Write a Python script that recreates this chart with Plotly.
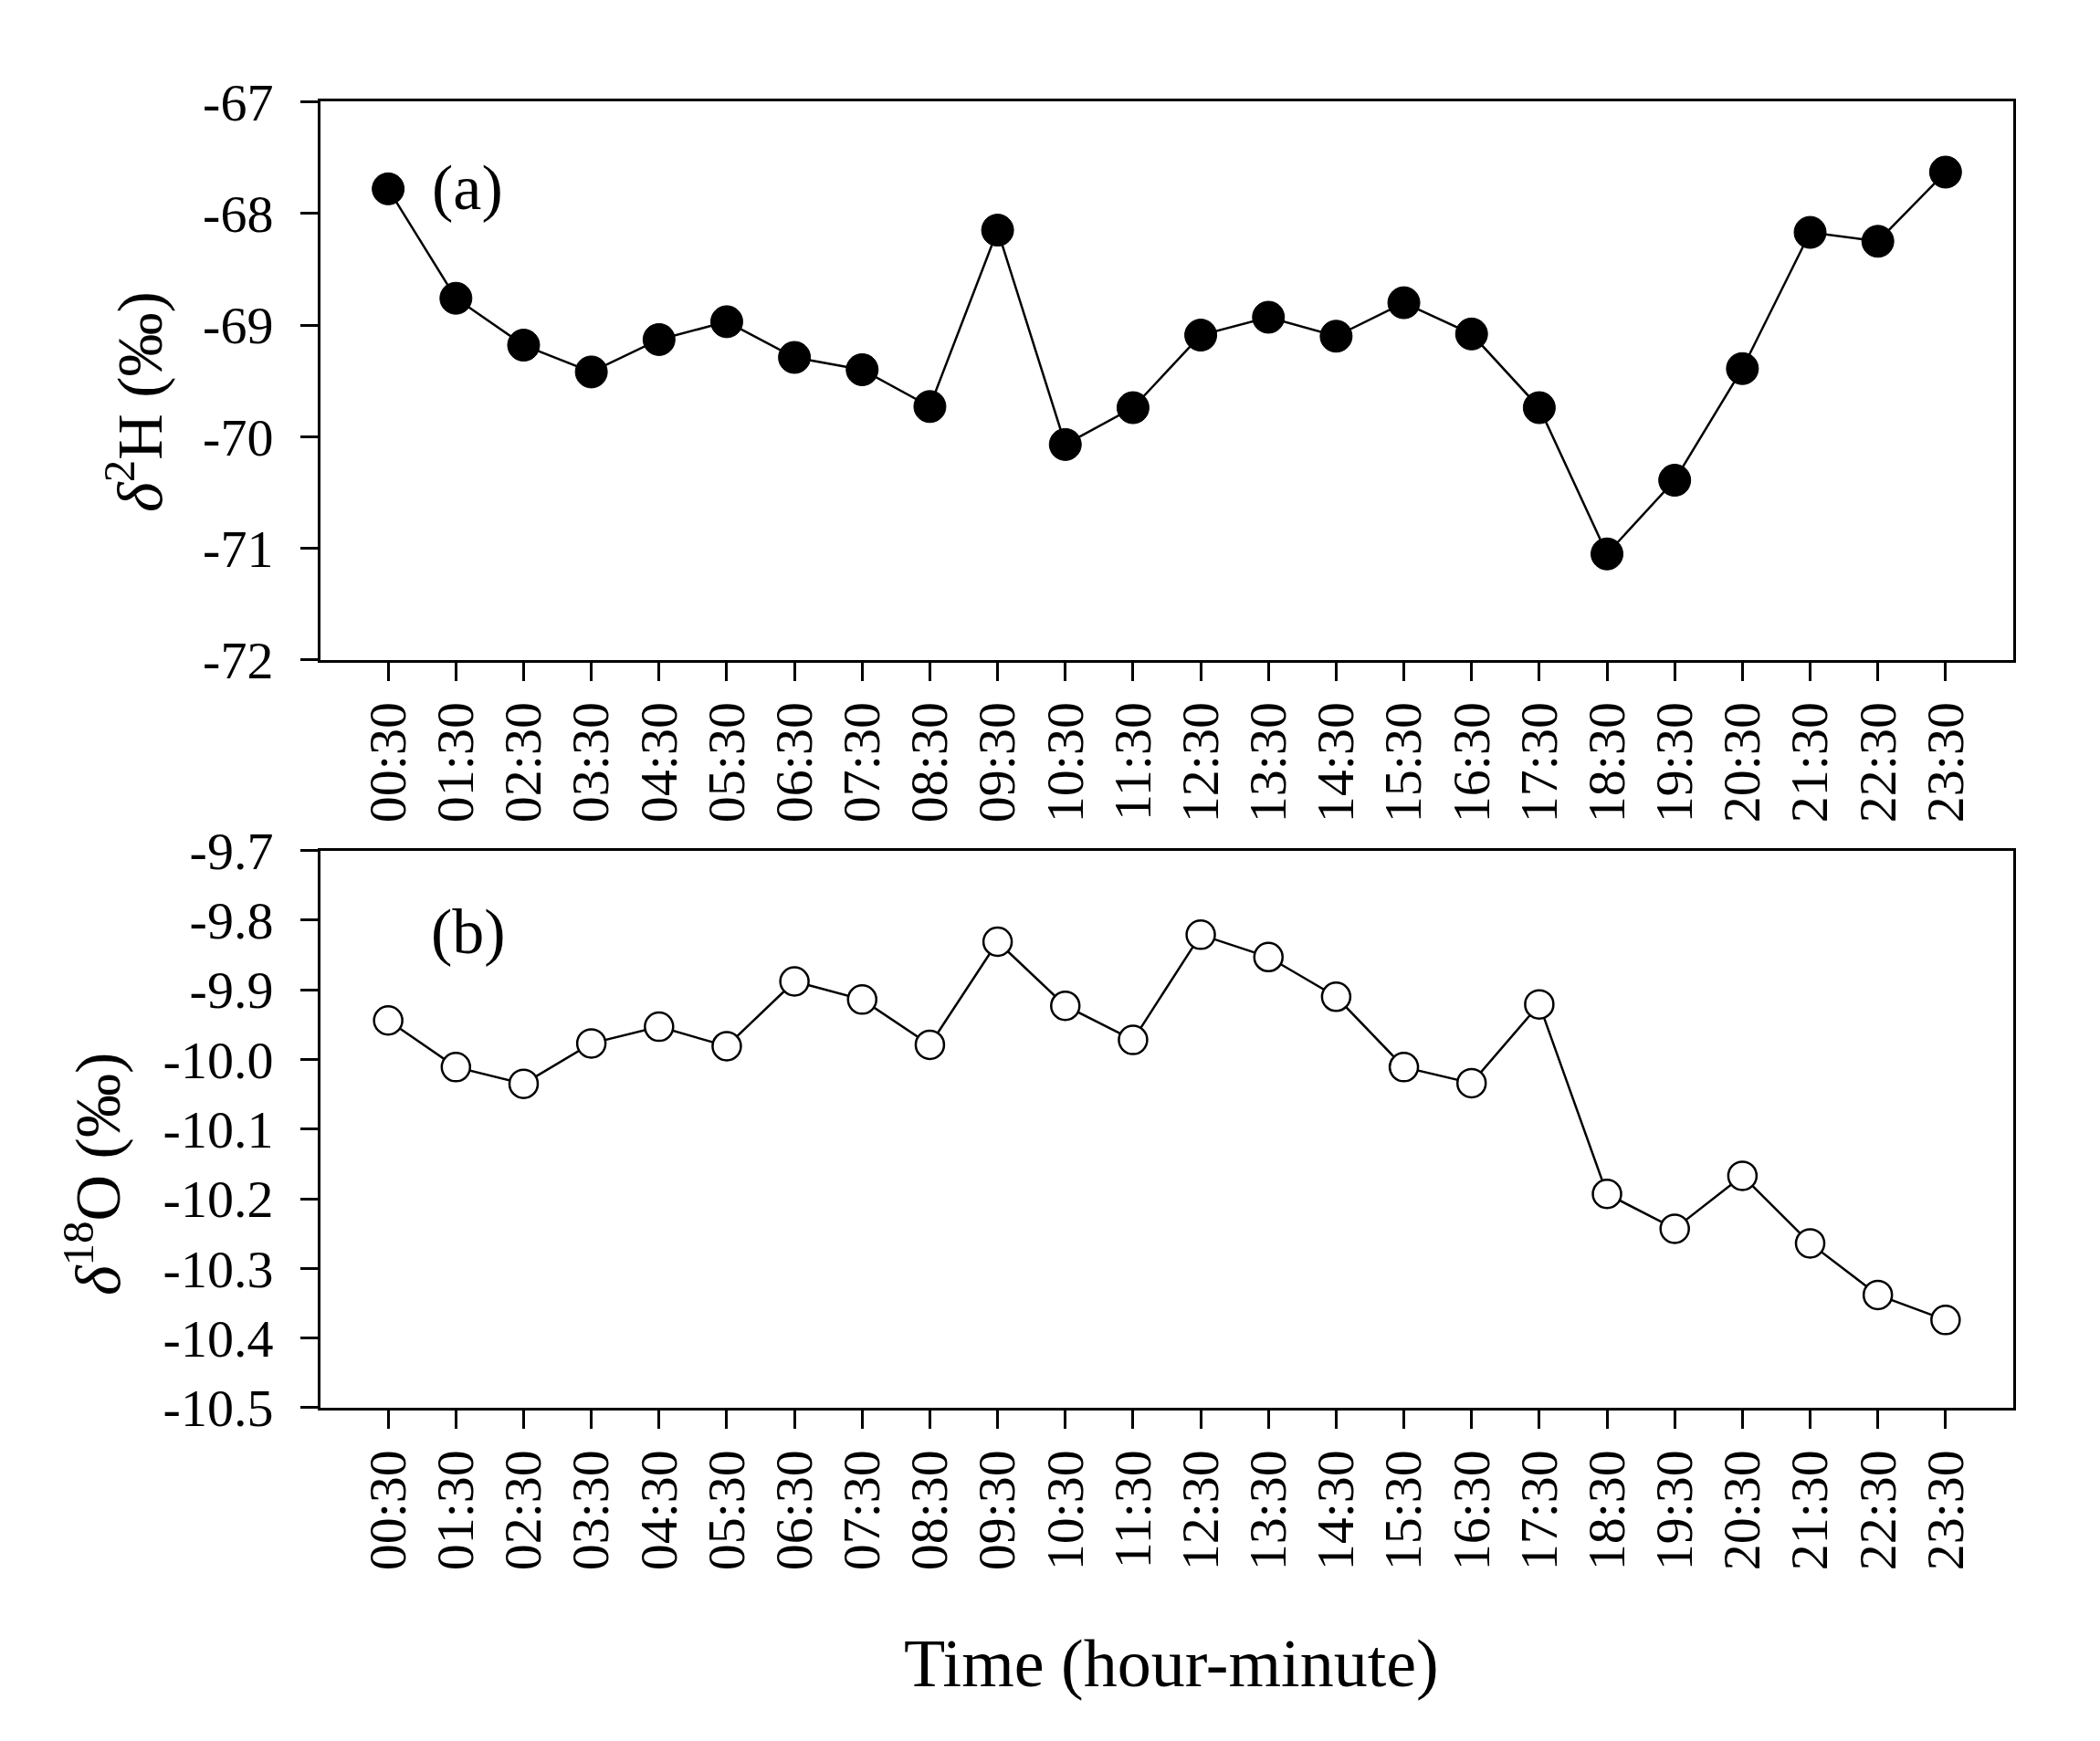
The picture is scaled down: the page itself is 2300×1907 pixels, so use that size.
"""Diurnal isotope series: delta-2H (a) and delta-18O (b) by half-hour."""

import plotly.graph_objects as go

times = [
    "00:30", "01:30", "02:30", "03:30", "04:30", "05:30", "06:30", "07:30",
    "08:30", "09:30", "10:30", "11:30", "12:30", "13:30", "14:30", "15:30",
    "16:30", "17:30", "18:30", "19:30", "20:30", "21:30", "22:30", "23:30",
]
d2h = [
    -67.78, -68.76, -69.18, -69.42, -69.13, -68.97, -69.29, -69.40,
    -69.73, -68.15, -70.07, -69.74, -69.09, -68.93, -69.10, -68.80,
    -69.08, -69.74, -71.05, -70.39, -69.39, -68.17, -68.25, -67.63,
]
d18o = [
    -9.944, -10.011, -10.035, -9.977, -9.953, -9.981, -9.888, -9.914,
    -9.979, -9.831, -9.923, -9.972, -9.821, -9.853, -9.910, -10.011,
    -10.034, -9.921, -10.193, -10.243, -10.167, -10.264, -10.338, -10.374,
]
d2h_ticks = [-72, -71, -70, -69, -68, -67]
d2h_ticktext = ["-72", "-71", "-70", "-69", "-68", "-67"]
d18o_ticks = [-10.5, -10.4, -10.3, -10.2, -10.1, -10.0, -9.9, -9.8, -9.7]
d18o_ticktext = ["-10.5", "-10.4", "-10.3", "-10.2", "-10.1", "-10.0",
                 "-9.9", "-9.8", "-9.7"]

FONT = "Liberation Serif"
W, H = 2300, 1907

fig = go.Figure()
fig.add_trace(go.Scatter(
    x=times, y=d2h, xaxis="x", yaxis="y", mode="lines+markers",
    line=dict(color="black", width=2.5),
    marker=dict(size=35, color="black", line=dict(color="black", width=1)),
))
fig.add_trace(go.Scatter(
    x=times, y=d18o, xaxis="x2", yaxis="y2", mode="lines+markers",
    line=dict(color="black", width=2.5),
    marker=dict(size=31, color="white", line=dict(color="black", width=2.5)),
))

xcommon = dict(
    type="category", categoryorder="array", categoryarray=times,
    range=[-1, len(times)], showline=True, linecolor="black", linewidth=3,
    mirror=True, ticks="outside", ticklen=20, tickwidth=3, tickcolor="black",
    tickangle=-90, showgrid=False, zeroline=False,
    tickfont=dict(family=FONT, size=58, color="black"),
    domain=[343 / W, 2197 / W],
)
ycommon = dict(
    showline=True, linecolor="black", linewidth=3, mirror=True,
    ticks="outside", ticklen=19, tickwidth=3, tickcolor="black",
    showgrid=False, zeroline=False, ticklabelstandoff=18,
    tickfont=dict(family=FONT, size=58, color="black"),
)


def label(text, x, y, size, angle=0):
    # pixel position (from top-left) -> centred paper annotation
    return dict(text=text, x=x / W, y=1 - y / H, xref="paper", yref="paper",
                xanchor="center", yanchor="middle", textangle=angle,
                showarrow=False, font=dict(size=size))


fig.update_layout(
    width=W, height=H, showlegend=False,
    paper_bgcolor="white", plot_bgcolor="white",
    margin=dict(l=0, r=0, t=0, b=0),
    font=dict(family=FONT, color="black"),
    xaxis=dict(xcommon, anchor="y"),
    xaxis2=dict(xcommon, anchor="y2"),
    yaxis=dict(ycommon, anchor="x", range=[-72, -67], tickvals=d2h_ticks,
               ticktext=d2h_ticktext, domain=[1 - 707 / H, 1 - 74 / H]),
    yaxis2=dict(ycommon, anchor="x2", range=[-10.5, -9.7], tickvals=d18o_ticks,
                ticktext=d18o_ticktext, domain=[1 - 1555 / H, 1 - 923 / H]),
    annotations=[
        label("(a)", 504, 171, 70),
        label("(b)", 505, 1015, 70),
        label("<i>δ</i><sup>2</sup>H (‰)", 139, 414, 70, -90),
        label("<i>δ</i><sup>18</sup>O (‰)", 94, 1290, 70, -90),
        label("Time (hour-minute)", 1275, 1845, 74),
    ],
)

fig.write_html("out.html")
